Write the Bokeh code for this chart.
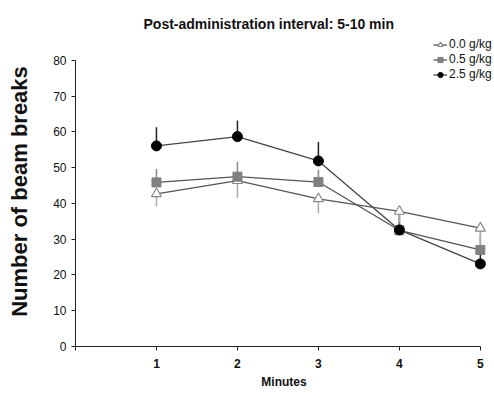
from bokeh.plotting import figure
from bokeh.models import Range1d, Legend, LegendItem
from bokeh.embed import file_html
from bokeh.resources import INLINE

minutes = [1, 2, 3, 4, 5]
g00 = [42.7, 46.4, 41.3, 37.8, 33.1]
g00_err = [3.5, 4.9, 4.0, 3.0, 5.0]
g05 = [45.9, 47.5, 46.0, 32.5, 27.0]
g05_err = [3.8, 4.2, 3.5, 3.0, 4.5]
g25 = [56.1, 58.7, 51.9, 32.6, 23.1]
g25_err = [5.2, 4.5, 5.3, 5.0, 3.5]
labels = ["0.0 g/kg", "0.5 g/kg", "2.5 g/kg"]

FONT = "Liberation Sans"
TXT = "#111111"

p = figure(width=494, height=396, output_backend="svg", toolbar_location=None,
           x_range=Range1d(0, 5.15), y_range=Range1d(0, 86.7),
           min_border_left=75, min_border_right=2, min_border_top=36, min_border_bottom=50)
p.outline_line_color = None
p.grid.visible = False
p.background_fill_color = "white"

p.title.text = "Post-administration interval: 5-10 min"
p.title.text_font = FONT
p.title.text_font_size = "14px"
p.title.text_font_style = "bold"
p.title.text_color = TXT
p.title.align = "left"
p.title.offset = 68
p.title.vertical_align = "bottom"
p.title.standoff = 9

xa = p.xaxis[0]
xa.bounds = (0, 5)
xa.ticker = [0, 1, 2, 3, 4, 5]
xa.major_label_overrides = {0: ""}
xa.minor_tick_line_color = None
xa.major_tick_in = 0
xa.major_tick_out = 4
xa.major_label_standoff = 8
xa.axis_label = "Minutes"
xa.axis_label_standoff = 4
xa.axis_label_text_font = FONT
xa.axis_label_text_font_size = "12px"
xa.axis_label_text_font_style = "bold"
xa.axis_label_text_color = TXT
xa.major_label_text_font = FONT
xa.major_label_text_font_size = "12px"
xa.major_label_text_font_style = "bold"
xa.major_label_text_color = TXT
xa.axis_line_color = "#222222"
xa.major_tick_line_color = "#222222"

ya = p.yaxis[0]
ya.bounds = (0, 80)
ya.ticker = list(range(0, 81, 10))
ya.minor_tick_line_color = None
ya.major_tick_in = 0
ya.major_tick_out = 4
ya.axis_label = "Number of beam breaks"
ya.axis_label_text_font = FONT
ya.axis_label_text_font_size = "22px"
ya.axis_label_text_font_style = "bold"
ya.axis_label_text_color = TXT
ya.axis_label_standoff = 18
ya.major_label_text_font = FONT
ya.major_label_text_font_size = "12px"
ya.major_label_text_color = TXT
ya.axis_line_color = "#222222"
ya.major_tick_line_color = "#222222"

line_col = "#555555"

# error bars
p.segment(x0=minutes, y0=g25, x1=minutes, y1=[v + e for v, e in zip(g25, g25_err)],
          line_color="#222222", line_width=1.5)
p.segment(x0=minutes, y0=g05, x1=minutes, y1=[v + e for v, e in zip(g05, g05_err)],
          line_color="#888888", line_width=1.5)
p.segment(x0=minutes, y0=g00, x1=minutes, y1=[v - e for v, e in zip(g00, g00_err)],
          line_color="#aaaaaa", line_width=1.5)

l0 = p.line(minutes, g00, line_color=line_col, line_width=1.3)
l1 = p.line(minutes, g05, line_color=line_col, line_width=1.3)
l2 = p.line(minutes, g25, line_color="#444444", line_width=1.3)

m0 = p.scatter(minutes, g00, marker="triangle", size=10, fill_color="white", line_color="#888888", line_width=1.2)
m1 = p.scatter(minutes, g05, marker="square", size=9, fill_color="#808080", line_color="#808080")
m2 = p.scatter(minutes, g25, marker="circle", size=10, fill_color="black", line_color="black")

legend = Legend(items=[LegendItem(label=labels[0], renderers=[l0, m0]),
                       LegendItem(label=labels[1], renderers=[l1, m1]),
                       LegendItem(label=labels[2], renderers=[l2, m2])],
                location=(358, 265))
legend.label_text_font = FONT
legend.label_text_font_size = "12px"
legend.label_text_color = TXT
legend.glyph_width = 14
legend.glyph_height = 13
legend.spacing = 1
legend.padding = 0
legend.margin = 0
legend.label_standoff = 2
legend.label_height = 13
legend.border_line_color = None
legend.background_fill_alpha = 0
p.add_layout(legend)

open("out.html", "w").write(file_html(p, INLINE))
